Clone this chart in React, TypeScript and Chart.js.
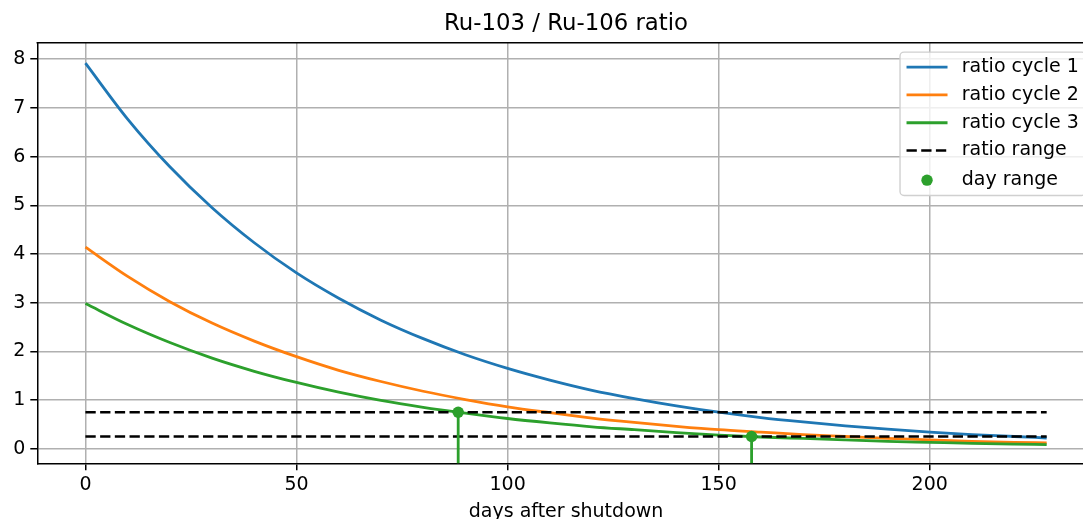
import React, { useEffect, useRef } from "react";
import { Chart, registerables } from "chart.js";

Chart.register(...registerables);

// ---- data ----
const days = [0, 10, 20, 30, 40, 50, 60, 70, 80, 90, 100, 110, 120, 130, 140, 150, 160, 170, 180, 190, 200, 210, 220, 227.7];
const ratioCycle1 = [7.92, 6.77, 5.79, 4.95, 4.23, 3.61, 3.09, 2.64, 2.26, 1.93, 1.65, 1.41, 1.2, 1.03, 0.88, 0.75, 0.64, 0.55, 0.47, 0.4, 0.34, 0.29, 0.25, 0.22];
const ratioCycle2 = [4.14, 3.54, 3.02, 2.58, 2.21, 1.89, 1.61, 1.38, 1.18, 1.01, 0.86, 0.74, 0.63, 0.54, 0.46, 0.39, 0.34, 0.29, 0.25, 0.21, 0.18, 0.15, 0.13, 0.12];
const ratioCycle3 = [2.98, 2.55, 2.18, 1.86, 1.59, 1.36, 1.16, 0.99, 0.85, 0.73, 0.62, 0.53, 0.45, 0.39, 0.33, 0.28, 0.24, 0.21, 0.18, 0.15, 0.13, 0.11, 0.094, 0.083];
const rangeDays = [0, 227.7];
const ratioRange = [0.75, 0.25];
const dayRangeDays = [88.3, 157.8];
const dayRangeRatios = [0.75, 0.25];

const xTickValues = [0, 50, 100, 150, 200];
const yTickValues = [0, 1, 2, 3, 4, 5, 6, 7, 8];

const seriesLabels = ["ratio cycle 1", "ratio cycle 2", "ratio cycle 3"];
const titleText = "Ru-103 / Ru-106 ratio";
const xTitle = "days after shutdown";

const X_MIN = -11.4;
const X_MAX = 239.1;
const Y_MIN = -0.3;
const Y_MAX = 8.34;

const COLORS = ["#1f77b4", "#ff7f0e", "#2ca02c"];
const FONT = "DejaVu Sans";
const CANVAS_W = 1110;
const CANVAS_H = 530;

const toXY = (xs: number[], ys: number[]) => xs.map((x, i) => ({ x, y: ys[i] }));

const mplPlugin = {
  id: "mplFrameLegend",
  afterDraw(chart: any) {
    const { ctx, chartArea: ca } = chart;
    ctx.save();
    // top spine (the right spine lies outside the visible window)
    ctx.strokeStyle = "#000";
    ctx.lineWidth = 1.5;
    ctx.setLineDash([]);
    ctx.beginPath();
    ctx.moveTo(ca.left - 0.75, ca.top);
    ctx.lineTo(ca.right, ca.top);
    ctx.stroke();

    // legend
    const items = chart.data.datasets.filter((d: any) => d.inLegend !== false);
    const fs = 19;
    ctx.font = `${fs}px "${FONT}"`;
    const textW = Math.max(...items.map((d: any) => ctx.measureText(d.label).width));
    const padL = 6.5;
    const handleLen = 41;
    const textPad = 14.2;
    const padR = 7;
    const w = padL + handleLen + textPad + textW + padR;
    const right = ca.right - 9;
    const left = right - w;
    const top = ca.top + 9.5;
    const rowOffsets = [15, 42.8, 70.6, 98.4, 128];
    const h = 143.3;

    ctx.beginPath();
    ctx.roundRect(left, top, w, h, 4);
    ctx.fillStyle = "rgba(255,255,255,0.8)";
    ctx.fill();
    ctx.strokeStyle = "#d0d0d0";
    ctx.lineWidth = 1.4;
    ctx.stroke();

    items.forEach((d: any, i: number) => {
      const y = top + rowOffsets[i];
      const hx0 = left + padL;
      const hx1 = hx0 + handleLen;
      if (d.showLine === false) {
        ctx.beginPath();
        ctx.arc((hx0 + hx1) / 2, y, d.pointRadius, 0, Math.PI * 2);
        ctx.fillStyle = d.pointBackgroundColor;
        ctx.fill();
      } else {
        ctx.beginPath();
        ctx.setLineDash(d.borderDash || []);
        ctx.strokeStyle = d.borderColor;
        ctx.lineWidth = d.borderWidth;
        ctx.lineCap = "butt";
        ctx.moveTo(hx0, y);
        ctx.lineTo(hx1, y);
        ctx.stroke();
        ctx.setLineDash([]);
      }
      ctx.fillStyle = "#000";
      ctx.textAlign = "left";
      ctx.textBaseline = "middle";
      ctx.fillText(d.label, left + padL + handleLen + textPad, y);
    });
    ctx.restore();
  },
};

export default function App() {
  const ref = useRef<HTMLCanvasElement | null>(null);

  useEffect(() => {
    if (!ref.current) return;
    const cycles = [ratioCycle1, ratioCycle2, ratioCycle3];
    const datasets: any[] = [];
    cycles.forEach((vals, i) => {
      datasets.push({
        label: seriesLabels[i],
        data: toXY(days, vals),
        borderColor: COLORS[i],
        backgroundColor: COLORS[i],
        borderWidth: 2.8,
        pointRadius: 0,
        cubicInterpolationMode: "monotone",
        fill: false,
      });
    });
    ratioRange.forEach((r, i) => {
      datasets.push({
        label: "ratio range",
        inLegend: i === 0,
        data: toXY(rangeDays, rangeDays.map(() => r)),
        borderColor: "#000",
        backgroundColor: "#000",
        borderWidth: 2.6,
        borderDash: [10.3, 4.4],
        pointRadius: 0,
        fill: false,
      });
    });
    dayRangeDays.forEach((d, i) => {
      datasets.push({
        label: "day range stem",
        inLegend: false,
        data: [
          { x: d, y: dayRangeRatios[i] },
          { x: d, y: Y_MIN - 1 },
        ],
        borderColor: COLORS[2],
        borderWidth: 2.8,
        pointRadius: 0,
        clip: 0,
        fill: false,
      });
    });
    datasets.push({
      label: "day range",
      data: toXY(dayRangeDays, dayRangeRatios),
      showLine: false,
      pointRadius: 5.7,
      pointHoverRadius: 5.7,
      pointBackgroundColor: COLORS[2],
      pointBorderColor: COLORS[2],
      pointBorderWidth: 0,
      borderColor: COLORS[2],
      backgroundColor: COLORS[2],
    });
    const n = datasets.length;
    datasets.forEach((d, i) => (d.order = n - i));

    const tickFont = { family: FONT, size: 19 };
    const chart = new Chart(ref.current, {
      type: "line",
      data: { datasets },
      options: {
        animation: false,
        responsive: false,
        events: [],
        layout: { padding: { left: 0, top: 0, right: CANVAS_W - 1094.8, bottom: 0 } },
        plugins: {
          legend: { display: false },
          tooltip: { enabled: false },
          title: {
            display: true,
            text: titleText,
            fullSize: false,
            color: "#000",
            font: { family: FONT, size: 22.8, weight: "normal" },
            padding: { top: 10, bottom: 5.3 },
          },
        },
        scales: {
          x: {
            type: "linear",
            min: X_MIN,
            max: X_MAX,
            afterBuildTicks: (s: any) => {
              s.ticks = xTickValues.map((v) => ({ value: v }));
            },
            afterFit: (s: any) => {
              s.height = CANVAS_H - 463.3;
            },
            ticks: {
              color: "#000",
              font: tickFont,
              padding: 3,
              maxRotation: 0,
              autoSkip: false,
            },
            grid: {
              color: "#b0b0b0",
              lineWidth: 1.5,
              tickColor: "#000",
              tickWidth: 1.5,
              tickLength: 7,
            },
            border: { display: true, color: "#000", width: 1.5 },
            title: {
              display: true,
              text: xTitle,
              color: "#000",
              font: { family: FONT, size: 19 },
              padding: { top: 0, bottom: 6.6 },
            },
          },
          y: {
            type: "linear",
            min: Y_MIN,
            max: Y_MAX,
            afterBuildTicks: (s: any) => {
              s.ticks = yTickValues.map((v) => ({ value: v }));
            },
            afterFit: (s: any) => {
              s.width = 37.3;
            },
            ticks: {
              color: "#000",
              font: tickFont,
              padding: 5,
              autoSkip: false,
            },
            grid: {
              color: "#b0b0b0",
              lineWidth: 1.5,
              tickColor: "#000",
              tickWidth: 1.5,
              tickLength: 7,
            },
            border: { display: true, color: "#000", width: 1.5 },
          },
        },
      },
      plugins: [mplPlugin],
    } as any);
    return () => chart.destroy();
  }, []);

  return (
    <div
      style={{
        position: "fixed",
        left: 0,
        top: 0,
        width: 1083,
        height: 519,
        overflow: "hidden",
        background: "#fff",
      }}
    >
      <canvas ref={ref} width={CANVAS_W} height={CANVAS_H} style={{ display: "block" }} />
    </div>
  );
}
